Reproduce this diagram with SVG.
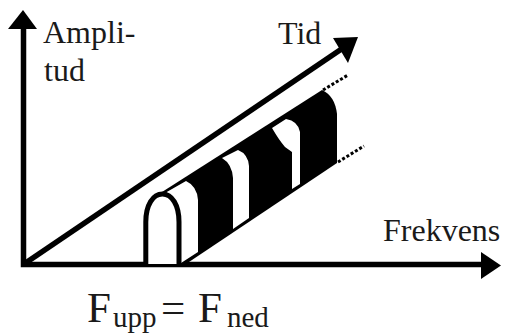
<svg xmlns="http://www.w3.org/2000/svg" width="508" height="335" viewBox="0 0 508 335">
<style>
.ax{stroke:#000;stroke-width:5.5;fill:none}
.head{fill:#000}
.dot{stroke:#000;stroke-width:3;stroke-dasharray:3 2;fill:none}
.white{fill:#fff}
</style>
<rect width="508" height="335" fill="#fff"/>
<g id="connectors">
  <path class="ax" d="M23.5 27 V264.5 H484" stroke-linejoin="miter"/>
  <polygon class="head" points="23,10 8,29 37,29"/>
  <polygon class="head" points="481,252 501,265.5 481,279"/>
  <line class="ax" x1="24" y1="264" x2="343" y2="48"/>
  <polygon class="head" points="333,38 358,37 348,63"/>
  <line class="dot" x1="323" y1="90" x2="348" y2="75"/>
  <line class="dot" x1="338" y1="162" x2="364" y2="146"/>
</g>
<g id="band">
  <path fill="#000" d="M162 192 L322 90 Q335 96 337 114 L337 163 L183 266 Z"/>
  <path class="white" d="M165 193 L186 181 Q197 186 198 200 L198 252 L181 263 L175 200 Z"/>
  <path class="white" d="M222 158 L238 150 Q248 154 249 166 L249 218 L233 229 L233 178 Q232 164 222 158 Z"/>
  <path class="white" d="M272 128 L286 119 Q298 121 300 132 L300 184 L292 189 L292 152 L285 147 Q279 140 272 128 Z"/>
</g>
<g id="arch">
  <path d="M145.8 264 V222 C145.8 205 153 194 162.4 194 C172 194 179 205 179 222 V264" fill="#fff" stroke="#000" stroke-width="5"/>
</g>
<g font-family="Liberation Serif, Times New Roman, DejaVu Serif, serif" fill="#1a1a1a">
<g id="label-amplitud">
  <text x="43" y="43" font-size="32">Ampli-</text>
  <text x="44" y="81" font-size="32">tud</text>
</g>
<g id="label-tid">
  <text x="278" y="44" font-size="32">Tid</text>
</g>
<g id="label-frekvens">
  <text x="383" y="241" font-size="32">Frekvens</text>
</g>
<g id="label-formula">
  <text><tspan x="87" y="322" font-size="43">F</tspan><tspan x="113" y="327" font-size="29">upp</tspan><tspan x="161" y="322" font-size="43">=</tspan><tspan x="198" y="322" font-size="43">F</tspan><tspan x="227" y="327" font-size="29">ned</tspan></text>
</g>
</g>
</svg>
